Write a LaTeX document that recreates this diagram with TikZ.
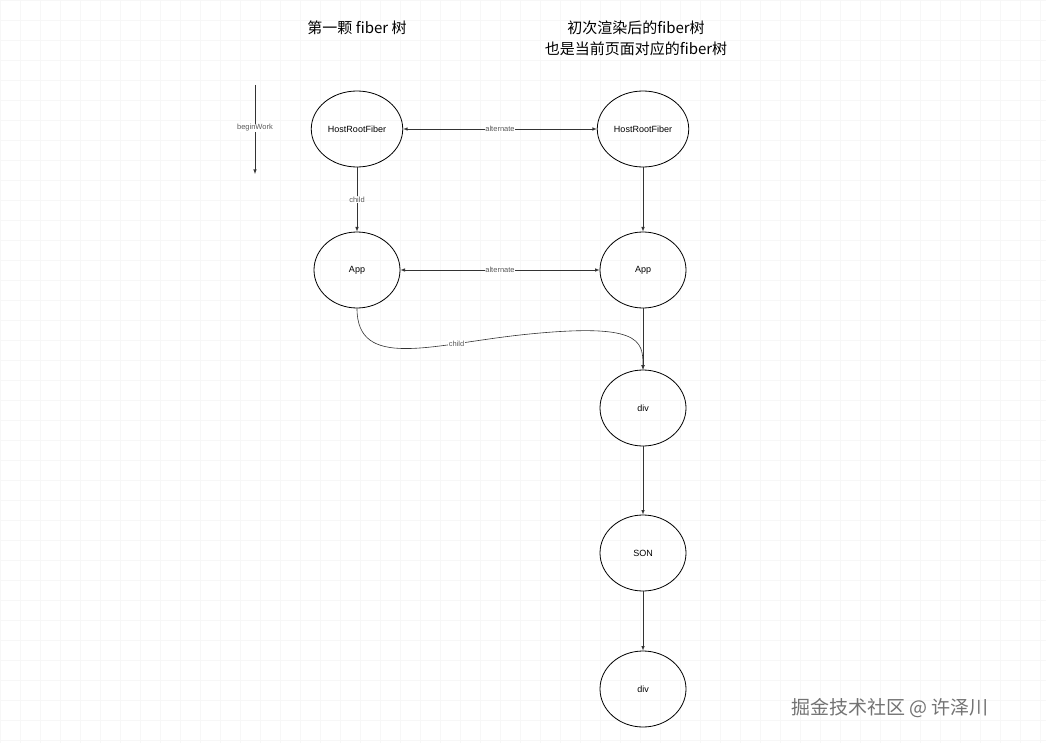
\documentclass[tikz,border=0pt]{standalone}
\usepackage{fontspec}
\setmainfont{Liberation Sans}
\newfontfamily\cjk{Noto Sans CJK SC}
\usetikzlibrary{shapes.geometric}
\begin{document}
\begin{tikzpicture}[x=1pt,y=-1pt,
  fib/.style={draw,ellipse,minimum width=86pt,minimum height=76pt,font=\fontsize{9}{10}\selectfont,line width=0.8pt},
  arr/.style={-latex,line width=0.6pt,draw=black!80},
  lab/.style={font=\fontsize{7.5}{8}\selectfont,fill=white,inner sep=0.5pt,text=black!65},
  ttl/.style={font=\cjk\fontsize{15}{21}\selectfont,align=center}]
\fill[white] (0,0) rectangle (1046,743);
\useasboundingbox (0,0) rectangle (1046,743);
\draw[black!3,line width=0.4pt] (0,0) grid[step=20pt] (1046,743);
\node[ttl] (t1) at (357,28) {第一颗 fiber 树};
\node[ttl] (t2) at (636,38) {初次渲染后的fiber树\\也是当前页面对应的fiber树};
\node[fib] (h1) at (357,129) {HostRootFiber};
\node[fib] (a1) at (357,270) {App};
\node[fib] (h2) at (643,129) {HostRootFiber};
\node[fib] (a2) at (643,270) {App};
\node[fib] (d1) at (643,408) {div};
\node[fib] (s) at (643,553) {SON};
\node[fib] (d2) at (643,689) {div};
\coordinate (b1) at (255,85); \coordinate (b2) at (255,174);
\draw[arr] (b1) -- node[lab,pos=0.48]{beginWork} (b2);
\draw[arr] (h1) -- node[lab]{child} (a1);
\draw[arr,latex-latex] (h1) -- node[lab]{alternate} (h2);
\draw[arr,latex-latex] (a1) -- node[lab]{alternate} (a2);
\draw[arr] (h2) -- (a2);
\draw[arr] (a2) -- (d1);
\draw[arr] (d1) -- (s);
\draw[arr] (s) -- (d2);
\draw[arr] (a1.south) .. controls (357,370) and (430,345) .. node[lab,pos=0.75]{child} (520,335) .. controls (640,322) and (643,340) .. (d1.north);
\node[font=\cjk\fontsize{19}{22}\selectfont,text=black!55] (wm) at (890,708) {掘金技术社区 @ 许泽川};
\end{tikzpicture}
\end{document}
